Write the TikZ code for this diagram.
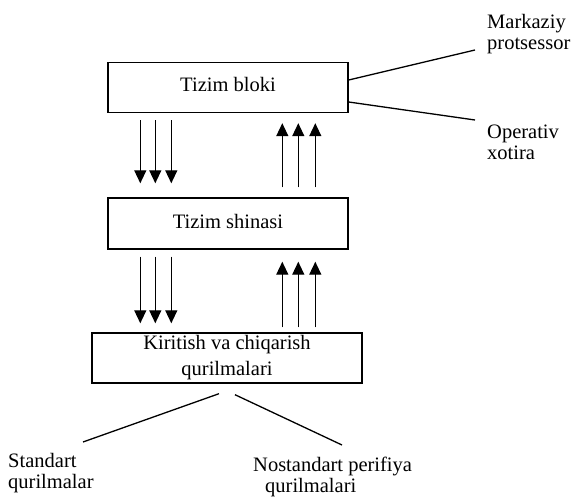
\documentclass[tikz,border=0pt]{standalone}
\usepackage{fontspec}
\setmainfont{Liberation Serif}
\usetikzlibrary{arrows.meta}
\begin{document}
\begin{tikzpicture}[x=1pt,y=-1pt,
  every node/.style={font=\fontsize{20.5}{21}\selectfont},
  block/.style={draw, line width=1.4pt, inner sep=0pt, align=center},
  link/.style={line width=1.3pt},
  flow/.style={line width=1.3pt, -{Triangle[length=13pt,width=12pt]}},
  label/.style={anchor=base west, inner sep=0pt, align=left}]
\useasboundingbox (0,0) rectangle (576,500);

% the three blocks
\node[block, minimum width=240pt, minimum height=50pt,
      text height=14pt, text depth=5pt] (sys) at (228,87.5) {Tizim bloki};
\node[block, minimum width=240pt, minimum height=51pt,
      text height=14pt, text depth=5pt] (bus) at (228,223.5) {Tizim shinasi};
\node[block, minimum width=270pt, minimum height=50pt,
      font=\fontsize{20.5}{26}\selectfont] (io) at (227,358)
      {Kiritish va chiqarish\\qurilmalari};

% data flow between system block and bus
\foreach \dx in {33,48,64}
  \draw[flow] ([xshift=\dx pt, yshift=-7pt]sys.south west)
           -- ([xshift=\dx pt, yshift=14pt]bus.north west);
\foreach \dx in {175,191,208}
  \draw[flow] ([xshift=\dx pt, yshift=10pt]bus.north west)
           -- ([xshift=\dx pt, yshift=-10pt]sys.south west);

% data flow between bus and input/output devices
\foreach \a/\b in {33/49,48/64,64/80}
  \draw[flow] ([xshift=\a pt, yshift=-7pt]bus.south west)
           -- ([xshift=\b pt, yshift=9pt]io.north west);
\foreach \a/\b in {191/175,207/191,224/208}
  \draw[flow] ([xshift=\a pt, yshift=5pt]io.north west)
           -- ([xshift=\b pt, yshift=-12pt]bus.south west);

% components of the system block
\coordinate (cpu) at (475,50);
\coordinate (ram) at (475,120);
\draw[link] ([yshift=7.5pt]sys.east) -- (cpu);
\draw[link] ([yshift=-14.5pt]sys.east) -- (ram);
\node[label] (cpul) at (487,50) {Markaziy\\protsessor};
\node[label] (raml) at (487,160) {Operativ\\xotira};

% kinds of input/output devices
\coordinate (std) at (83,442);
\coordinate (nstd) at (342,445);
\draw[link] ([xshift=-8pt, yshift=-10pt]io.south) -- (std);
\draw[link] ([xshift=8pt, yshift=-11pt]io.south) -- (nstd);
\node[label] (stdl) at (8,488) {Standart\\qurilmalar};
\node[label] (nstdl) at (253,492) {Nostandart perifiya\\\hspace*{12pt}qurilmalari};
\end{tikzpicture}
\end{document}
